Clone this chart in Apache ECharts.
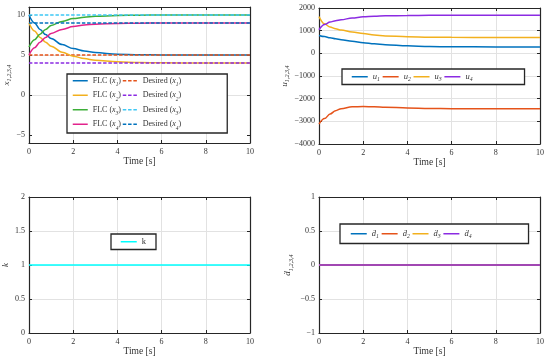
<!DOCTYPE html>
<html><head><meta charset="utf-8">
<script src="https://cdn.jsdelivr.net/npm/echarts@6/dist/echarts.min.js"></script>
<style>html,body{margin:0;padding:0;background:#fff}#c{width:550px;height:361px}</style>
</head><body><div id="c"></div>
<script>
// ---- data ----
const time = [0, 0.25, 0.5, 0.75, 1, 1.5, 2, 2.5, 3, 4, 5, 6, 8, 10];
const x1 = [10, 9.0, 8.2, 7.55, 7.05, 6.3, 5.8, 5.5, 5.3, 5.1, 5.03, 5.01, 5, 5];
const x2 = [9, 8.0, 7.2, 6.6, 6.1, 5.35, 4.85, 4.55, 4.35, 4.15, 4.05, 4.02, 4, 4];
const x3 = [6, 6.9, 7.6, 8.2, 8.7, 9.2, 9.55, 9.72, 9.83, 9.94, 9.98, 10, 10, 10];
const x4 = [5, 5.9, 6.6, 7.2, 7.7, 8.2, 8.55, 8.75, 8.85, 8.95, 8.98, 9, 9, 9];
const timeEnds = [0, 10];
const desired = [5, 4, 10, 9];
const u1 = [790, 740, 685, 640, 600, 530, 470, 420, 380, 330, 300, 290, 282, 280];
const u2 = [-3120, -2880, -2680, -2530, -2440, -2360, -2345, -2360, -2380, -2410, -2430, -2440, -2442, -2444];
const u3 = [1620, 1300, 1160, 1080, 1030, 940, 870, 810, 770, 730, 712, 705, 701, 700];
const u4 = [1040, 1270, 1380, 1440, 1480, 1560, 1610, 1640, 1655, 1668, 1675, 1678, 1680, 1680];
const kVals = [1, 1];
const d1 = [0, 0], d2 = [0, 0], d3 = [0, 0], d4 = [0, 0];
const xTicksTL = [-5, 0, 5, 10];

// ---- style ----
const font = 'Liberation Serif, DejaVu Serif, serif';
const C = {blue:'#0072BD', orange:'#E5531A', yellow:'#F2B01E', purple:'#8B2BE2', green:'#3DAE38', magenta:'#E2238C', lblue:'#3EC8F5', cyan:'#00FFFF'};
const ink = '#262626';
function makeRich(fs, lh){
  return {
    i: {fontStyle:'italic', fontFamily:font, fontSize:fs, color:'#333', lineHeight:lh},
    s: {fontStyle:'italic', fontFamily:font, fontSize:fs*0.68, color:'#333', lineHeight:lh - 6.5, verticalAlign:'bottom'}
  };
}
const richName = makeRich(9, 12);
function fmtName(n){
  let m;
  if ((m = n.match(/^(FLC|Desired) \((x)(\d)\)$/))) return m[1] + ' ({i|' + m[2] + '}{s|' + m[3] + '})';
  if ((m = n.match(/^([uḋ])(\d)$/))) return '{i|' + m[1] + '}{s|' + m[2] + '}';
  return n;
}
const grids = [
  {left:29, top:7, width:221, height:136},
  {left:319, top:8, width:221, height:136},
  {left:29, top:197, width:221, height:136},
  {left:319, top:197, width:221, height:136}
].map(g => Object.assign(g, {containLabel:false, outerBoundsMode:'none'}));

const minus = v => String(v).replace('-', '\u2212');
function xAxisMain(gi){
  return {type:'value', gridIndex:gi, min:0, max:10, interval:2, position:'bottom',
    name:'Time [s]', nameLocation:'middle', nameGap:12,
    nameTextStyle:{fontFamily:font, fontSize:9.5, color:'#333'},
    axisLine:{show:true, onZero:false, lineStyle:{color:ink, width:1.2}},
    axisTick:{show:true, inside:true, length:3, lineStyle:{color:ink}},
    axisLabel:{fontFamily:font, fontSize:8, color:'#333', margin:5},
    splitLine:{show:true, showMinLine:false, showMaxLine:false, lineStyle:{color:'#e2e2e2', width:1}}};
}
function xAxisTop(gi){
  return {type:'value', gridIndex:gi, min:0, max:10, interval:2, position:'top',
    axisLine:{show:true, onZero:false, lineStyle:{color:ink, width:1.2}},
    axisTick:{show:true, inside:true, length:3, lineStyle:{color:ink}},
    axisLabel:{show:false}, splitLine:{show:false}};
}
function yAxisMain(gi, min, max, interval, name, gap, custom){
  const a = {type:'value', gridIndex:gi, min:min, max:max, position:'left',
    name:name, nameLocation:'middle', nameGap:gap,
    nameTextStyle:{fontFamily:font, fontSize:9, color:'#333', rich:richName},
    axisLine:{show:true, onZero:false, lineStyle:{color:ink, width:1.2}},
    axisTick:{show:true, inside:true, length:3, lineStyle:{color:ink}},
    axisLabel:{fontFamily:font, fontSize:8, color:'#333', margin:4, formatter:minus},
    splitLine:{show:true, showMinLine:false, showMaxLine:false, lineStyle:{color:'#e2e2e2', width:1}}};
  if (custom) { a.axisLabel.customValues = custom; a.axisTick.customValues = custom; a.splitLine.customValues = custom; }
  else a.interval = interval;
  return a;
}
function yAxisRight(gi, min, max, interval, custom){
  const a = {type:'value', gridIndex:gi, min:min, max:max, position:'right',
    axisLine:{show:true, onZero:false, lineStyle:{color:ink, width:1.2}},
    axisTick:{show:true, inside:true, length:3, lineStyle:{color:ink}},
    axisLabel:{show:false}, splitLine:{show:false}};
  if (custom) { a.axisLabel.customValues = custom; a.axisTick.customValues = custom; }
  else a.interval = interval;
  return a;
}
const pairs = (ts, vs) => ts.map((t, i) => [t, vs[i]]);
function line(name, xi, ys, color, dashed){
  return {type:'line', name:name, xAxisIndex:xi, yAxisIndex:xi, data:ys,
    symbol:'none', smooth:0.35, smoothMonotone:'x', animation:false,
    lineStyle:{color:color, width:1.5, type: dashed ? [3.5, 1.8] : 'solid'},
    itemStyle:{color:color}};
}
function legend(opts, fs, lh){
  return Object.assign({orient:'horizontal', itemWidth:16, itemHeight:8, itemGap:2,
    borderColor:ink, borderWidth:1.3, backgroundColor:'#fff', borderRadius:0,
    selectedMode:false, formatter:fmtName,
    itemStyle:{opacity:0, borderWidth:0},
    lineStyle:{width:1.5},
    textStyle:{fontFamily:font, fontSize:fs, color:'#333', lineHeight:lh, rich:makeRich(fs, lh)}}, opts);
}

const series = [
  line('FLC (x1)', 0, pairs(time, x1), C.blue),
  line('Desired (x1)', 0, pairs(timeEnds, [desired[0], desired[0]]), C.orange, true),
  line('FLC (x2)', 0, pairs(time, x2), C.yellow),
  line('Desired (x2)', 0, pairs(timeEnds, [desired[1], desired[1]]), C.purple, true),
  line('FLC (x3)', 0, pairs(time, x3), C.green),
  line('Desired (x3)', 0, pairs(timeEnds, [desired[2], desired[2]]), C.lblue, true),
  line('FLC (x4)', 0, pairs(time, x4), C.magenta),
  line('Desired (x4)', 0, pairs(timeEnds, [desired[3], desired[3]]), C.blue, true),
  line('u1', 1, pairs(time, u1), C.blue),
  line('u2', 1, pairs(time, u2), C.orange),
  line('u3', 1, pairs(time, u3), C.yellow),
  line('u4', 1, pairs(time, u4), C.purple),
  line('k', 2, pairs(timeEnds, kVals), C.cyan),
  line('ḋ1', 3, pairs(timeEnds, d1), C.blue),
  line('ḋ2', 3, pairs(timeEnds, d2), C.orange),
  line('ḋ3', 3, pairs(timeEnds, d3), C.yellow),
  line('ḋ4', 3, pairs(timeEnds, d4), C.purple)
];

const option = {
  backgroundColor:'#fff', animation:false,
  grid: grids,
  xAxis: [xAxisMain(0), xAxisMain(1), xAxisMain(2), xAxisMain(3),
          xAxisTop(0), xAxisTop(1), xAxisTop(2), xAxisTop(3)],
  yAxis: [yAxisMain(0, -6, 11, 5, '{i|x}{s|1,2,3,4}', 11, xTicksTL),
          yAxisMain(1, -4000, 2000, 1000, '{i|u}{s|1,2,3,4}', 28),
          yAxisMain(2, 0, 2, 0.5, '{i|k}', 17),
          yAxisMain(3, -1, 1, 0.5, '{i|ḋ}{s|1,2,3,4}', 25),
          yAxisRight(0, -6, 11, 5, xTicksTL), yAxisRight(1, -4000, 2000, 1000),
          yAxisRight(2, 0, 2, 0.5), yAxisRight(3, -1, 1, 0.5)],
  legend: [
    legend({left:67, top:74, width:130, padding:[0,46,2,5], itemGap:1, itemWidth:15,
      data:['FLC (x1)','Desired (x1)','FLC (x2)','Desired (x2)','FLC (x3)','Desired (x3)','FLC (x4)','Desired (x4)']}, 8, 13.5),
    legend({left:342, top:69, width:170, padding:[2,52,2,9], data:['u1','u2','u3','u4']}, 8.5, 11.5),
    legend({left:111, top:234, padding:[2,10,2,9], data:['k']}, 8.5, 11.5),
    legend({left:340, top:224, width:170, padding:[4,57,4,10], data:['ḋ1','ḋ2','ḋ3','ḋ4']}, 8.5, 11.5)
  ],
  series: series
};
const chart = echarts.init(document.getElementById('c'), null, {renderer:'canvas'});
chart.setOption(option);
</script></body></html>
